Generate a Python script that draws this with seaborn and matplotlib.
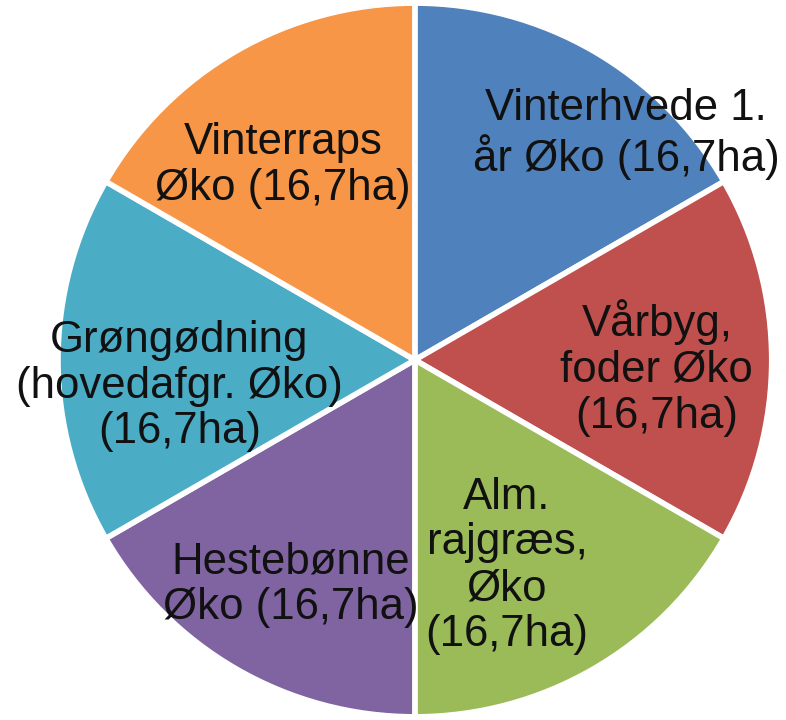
import matplotlib
matplotlib.use("Agg")
import matplotlib.pyplot as plt
import seaborn as sns

# crop rotation shares (all equal, 16,7 ha each)
labels = [
    "Vinterhvede 1.\når Øko (16,7ha)",
    "Vårbyg,\nfoder Øko\n(16,7ha)",
    "Alm.\nrajgræs,\nØko\n(16,7ha)",
    "Hestebønne\nØko (16,7ha)",
    "Grøngødning\n(hovedafgr. Øko)\n(16,7ha)",
    "Vinterraps\nØko (16,7ha)",
]
areas = [16.7, 16.7, 16.7, 16.7, 16.7, 16.7]
colors = ["#4F81BD", "#C0504D", "#9BBB59", "#8064A2", "#4BACC6", "#F79646"]

sns.set_theme(style="white")
plt.rcParams["font.family"] = ["Liberation Sans", "DejaVu Sans"]

fig = plt.figure(figsize=(7.86, 7.2), dpi=100)
ax = fig.add_axes([0.0738, 0.0042, 0.908, 0.9917])

wedges, texts = ax.pie(
    areas,
    labels=labels,
    colors=colors,
    startangle=90,
    counterclock=False,
    labeldistance=0.65,
    wedgeprops=dict(edgecolor="white", linewidth=4),
    textprops=dict(fontsize=31.5, color="#111111", ha="center", va="center",
                   linespacing=1.15),
)

# nudge label positions to match the original layout
label_pos = [(0.592, 0.633), (0.678, -0.022), (0.258, -0.577),
             (-0.347, -0.63), (-0.66, -0.073), (-0.37, 0.546)]
for t, p in zip(texts, label_pos):
    t.set_position(p)
    t.set_horizontalalignment("center")
    t.set_multialignment("center")

ax.set_xlim(-1, 1)
ax.set_ylim(-1, 1)
ax.set_aspect("equal")
ax.axis("off")

fig.savefig("out.png", dpi=100)
